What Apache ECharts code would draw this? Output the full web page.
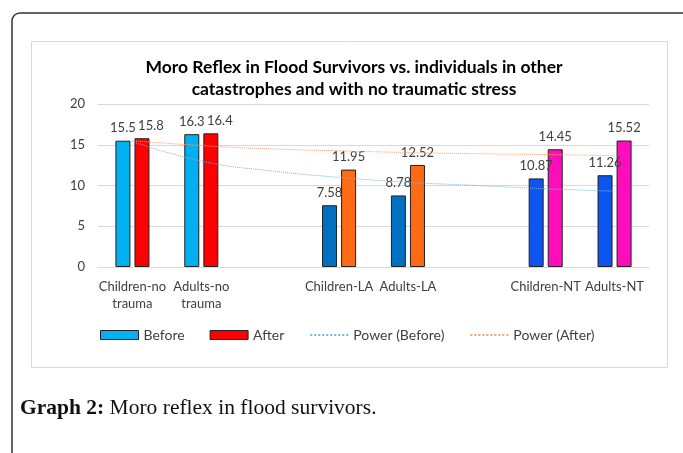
<!DOCTYPE html>
<html>
<head>
<meta charset="utf-8">
<script src="https://cdn.jsdelivr.net/npm/echarts@6/dist/echarts.min.js"></script>
<style>
  html, body { margin: 0; padding: 0; background: #fff; }
  #chart { width: 683px; height: 453px; }
</style>
</head>
<body>
<div id="chart"></div>
<script>
// categories (empty slots are the gaps between groups)
const categories = ['Children-no trauma', 'Adults-no trauma', '', 'Children-LA', 'Adults-LA', '', 'Children-NT', 'Adults-NT']
const beforeValues = [15.5, 16.3, null, 7.58, 8.78, null, 10.87, 11.26]
const afterValues = [15.8, 16.4, null, 11.95, 12.52, null, 14.45, 15.52]
const beforeColors = ['#00B0F0', '#00B0F0', null, '#0070C0', '#0070C0', null, '#0D55EE', '#0D55EE']
const afterColors = ['#FF0000', '#FF0000', null, '#FF6A15', '#FF6A15', null, '#FF0DBA', '#FF0DBA']
// power trendlines at each slot
const powerBefore = [15.4, 13.0, 11.8, 11.0, 10.4, 10.0, 9.6, 9.3]
const powerAfter = [15.5, 14.9, 14.5, 14.25, 14.05, 13.9, 13.8, 13.65]
const yTicks = [0, 5, 10, 15, 20]

// the "After" labels of the first group sit a little to the right so they don't collide
const afterLabelShift = [9, 9, 0, 0, 0, 0, 0, 0]

const chart = echarts.init(document.getElementById('chart'))

const toItems = (vals, cols, shift) => vals.map((v, i) => {
  if (v == null) return '-'
  const item = { value: v, itemStyle: { color: cols[i] } }
  if (shift && shift[i]) item.label = { offset: [shift[i], 0] }
  return item
})

const labelStyle = {
  show: true,
  position: 'top',
  distance: 6,
  fontFamily: 'Lato',
  fontSize: 13,
  color: '#404040',
}

const option = {
  animation: false,
  textStyle: { fontFamily: 'Lato' },
  title: {
    text: 'Moro Reflex in Flood Survivors vs. individuals in other\ncatastrophes and with no traumatic stress',
    left: 349,
    top: 51,
    textAlign: 'center',
    textStyle: {
      fontFamily: 'Lato',
      fontSize: 17.5,
      fontWeight: 'bold',
      color: '#000',
      lineHeight: 22,
    },
  },
  legend: {
    left: 95,
    top: 323,
    itemWidth: 38,
    itemHeight: 9,
    itemGap: 25,
    textStyle: { fontFamily: 'Lato', fontSize: 14, color: '#404040' },
    data: [
      { name: 'Before', icon: 'rect', itemStyle: { color: '#00B0F0', borderColor: '#222', borderWidth: 1 } },
      { name: 'After', icon: 'rect', itemStyle: { color: '#FF0000', borderColor: '#222', borderWidth: 1 } },
      { name: 'Power (Before)', itemStyle: { opacity: 0 } },
      { name: 'Power (After)', itemStyle: { opacity: 0 } },
    ],
  },
  grid: { left: 98, right: 34, top: 104, bottom: 186 },
  xAxis: {
    type: 'category',
    data: categories,
    axisLine: { lineStyle: { color: '#d9d9d9' } },
    axisTick: { show: false },
    axisLabel: {
      interval: 0,
      margin: 11,
      fontFamily: 'Lato',
      fontSize: 13,
      lineHeight: 17,
      color: '#404040',
      formatter: (v) => v.replace(' ', '\n'),
    },
  },
  yAxis: {
    type: 'value',
    min: yTicks[0],
    max: yTicks[yTicks.length - 1],
    interval: 5,
    axisLine: { show: false },
    axisTick: { show: false },
    splitLine: { lineStyle: { color: '#d9d9d9' } },
    axisLabel: { fontFamily: 'Lato', fontSize: 13, color: '#404040', margin: 13 },
  },
  series: [
    {
      name: 'Before',
      type: 'bar',
      barWidth: 15,
      barGap: '27%',
      itemStyle: { borderColor: '#222', borderWidth: 1 },
      label: labelStyle,
      data: toItems(beforeValues, beforeColors),
    },
    {
      name: 'After',
      type: 'bar',
      barWidth: 15,
      itemStyle: { borderColor: '#222', borderWidth: 1 },
      label: labelStyle,
      data: toItems(afterValues, afterColors, afterLabelShift),
    },
    {
      name: 'Power (Before)',
      type: 'line',
      smooth: true,
      symbol: 'none',
      itemStyle: { color: '#7fb0e0' },
      lineStyle: { color: '#7fb0e0', width: 1, type: 'dotted' },
      data: powerBefore,
      z: 5,
    },
    {
      name: 'Power (After)',
      type: 'line',
      smooth: true,
      symbol: 'none',
      itemStyle: { color: '#f5a27a' },
      lineStyle: { color: '#f5a27a', width: 1, type: 'dotted' },
      data: powerAfter,
      z: 5,
    },
  ],
  graphic: [
    {
      type: 'rect',
      shape: { x: 12, y: 13, width: 700, height: 500, r: 8 },
      style: { fill: 'none', stroke: '#333', lineWidth: 1.5 },
      silent: true,
    },
    {
      type: 'rect',
      shape: { x: 31.5, y: 41.5, width: 636, height: 326 },
      style: { fill: 'none', stroke: '#d9d9d9', lineWidth: 1 },
      silent: true,
    },
    {
      type: 'text',
      left: 20,
      top: 397,
      style: {
        text: '{b|Graph 2:} Moro reflex in flood survivors.',
        font: '21.5px "Liberation Serif"',
        fill: '#111',
        rich: {
          b: { fontFamily: 'Liberation Serif', fontSize: 21.5, fontWeight: 'bold', fill: '#111' },
        },
      },
    },
  ],
}

chart.setOption(option)
</script>
</body>
</html>
